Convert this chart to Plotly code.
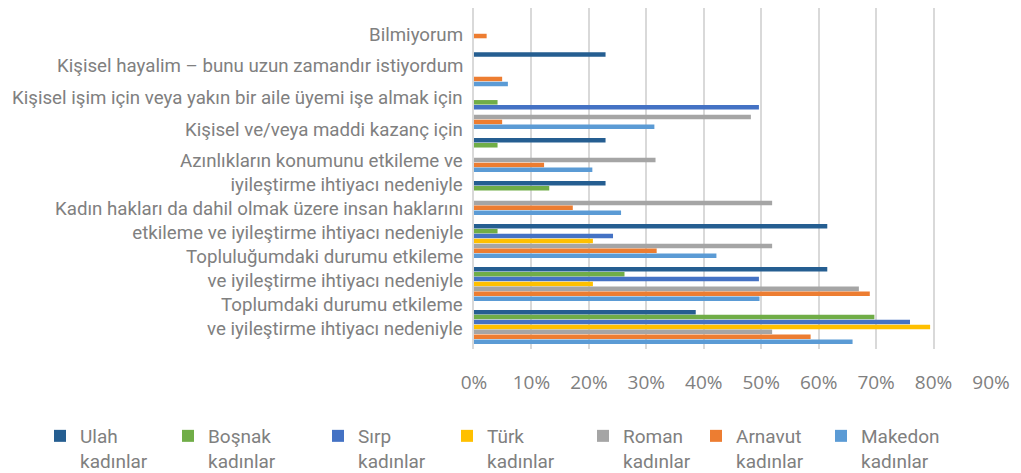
import plotly.graph_objects as go

# ---- data (categories listed top-to-bottom as shown) ----
categories = [
    "Bilmiyorum",
    "Kişisel hayalim – bunu uzun zamandır istiyordum",
    "Kişisel işim için veya yakın bir aile üyemi işe almak için",
    "Kişisel ve/veya maddi kazanç için",
    "Azınlıkların konumunu etkileme ve iyileştirme ihtiyacı nedeniyle",
    "Kadın hakları da dahil olmak üzere insan haklarını etkileme ve iyileştirme ihtiyacı nedeniyle",
    "Topluluğumdaki durumu etkileme ve iyileştirme ihtiyacı nedeniyle",
    "Toplumdaki durumu etkileme ve iyileştirme ihtiyacı nedeniyle",
]
category_labels = [
    "Bilmiyorum",
    "Kişisel hayalim – bunu uzun zamandır istiyordum",
    "Kişisel işim için veya yakın bir aile üyemi işe almak için",
    "Kişisel ve/veya maddi kazanç için",
    "Azınlıkların konumunu etkileme ve<br>iyileştirme ihtiyacı nedeniyle",
    "Kadın hakları da dahil olmak üzere insan haklarını<br>etkileme ve iyileştirme ihtiyacı nedeniyle",
    "Topluluğumdaki durumu etkileme<br>ve iyileştirme ihtiyacı nedeniyle",
    "Toplumdaki durumu etkileme<br>ve iyileştirme ihtiyacı nedeniyle",
]

series_names = ["Ulah<br>kadınlar", "Boşnak<br>kadınlar", "Sırp<br>kadınlar", "Türk<br>kadınlar",
                "Roman<br>kadınlar", "Arnavut<br>kadınlar", "Makedon<br>kadınlar"]

ulah = [0, 22.9, 0, 22.9, 22.9, 61.5, 61.5, 38.6]
bosnak = [0, 0, 4.1, 4.1, 13.1, 4.1, 26.2, 69.7]
sirp = [0, 0, 49.6, 0, 0, 24.2, 49.6, 75.9]
turk = [0, 0, 0, 0, 0, 20.7, 20.7, 79.4]
roman = [0, 0, 48.2, 31.6, 51.9, 51.9, 67.0, 51.9]
arnavut = [2.2, 4.9, 4.9, 12.2, 17.2, 31.8, 68.9, 58.6]
makedon = [0, 5.9, 31.4, 20.6, 25.6, 42.2, 49.7, 65.9]

tick_values = [0, 10, 20, 30, 40, 50, 60, 70, 80, 90]
tick_labels = ["0%", "10%", "20%", "30%", "40%", "50%", "60%", "70%", "80%", "90%"]

# ---- styling ----
series_values = [ulah, bosnak, sirp, turk, roman, arnavut, makedon]
colors = ["#255E91", "#70AD47", "#4472C4", "#FFC000", "#A5A5A5", "#ED7D31", "#5B9BD5"]
legend_x_px = [32, 160, 310, 439, 575, 688, 813]   # left of each legend box (figure px)
label_shift = [0.205, -0.081, -0.322, -0.584, -0.586, -0.462, -0.337, -0.227]

# the page adds an 8px body margin, so the figure is 8px smaller and shifted
W, H = 1013, 465
ML, MR, MT, MB = 466, 30, 0, 124
PW = W - ML - MR
PH = H - MT - MB

text_grey = "#808080"
label_font = "Roboto"

fig = go.Figure()
legend_layouts = {}
for k, (name, vals, col) in enumerate(zip(series_names, series_values, colors)):
    lname = "legend" if k == 0 else f"legend{k+1}"
    fig.add_trace(go.Bar(
        y=categories, x=vals, name=name, orientation="h",
        marker=dict(color=col, line=dict(width=0)),
        legend=lname, hoverinfo="x+name", showlegend=True,
    ))
    legend_layouts[lname] = dict(
        x=(legend_x_px[k] - ML) / PW, xanchor="left",
        y=(H - MB - 409) / PH, yanchor="top",
        bgcolor="rgba(0,0,0,0)", borderwidth=0,
        font=dict(family=label_font, size=19, color=text_grey),
        valign="top", itemclick=False, itemdoubleclick=False,
        visible=True,
    )

annotations = []
for i, lab in enumerate(category_labels):
    annotations.append(dict(
        x=-9 / PW, xref="paper", xanchor="right",
        y=i + label_shift[i], yref="y", yanchor="middle",
        text=lab, align="right", showarrow=False,
        font=dict(family=label_font, size=18.7, color=text_grey),
    ))

fig.update_layout(
    width=W, height=H,
    showlegend=True,
    margin=dict(l=ML, r=MR, t=MT, b=MB, pad=0, autoexpand=False),
    paper_bgcolor="white", plot_bgcolor="white",
    barmode="group", bargap=0.2, bargroupgap=0.08,
    annotations=annotations,
    xaxis=dict(
        range=[0, 90], tickmode="array", tickvals=tick_values, ticktext=tick_labels,
        showgrid=True, gridcolor="#D9D9D9", gridwidth=2,
        zeroline=False, showline=False, ticks="",
        ticklabelstandoff=20, automargin=False,
        tickfont=dict(family="Open Sans", size=19, color=text_grey),
        fixedrange=True,
    ),
    yaxis=dict(
        type="category", categoryorder="array", categoryarray=categories,
        range=[7.514, -0.424], showticklabels=False, ticks="",
        showgrid=False, zeroline=False, automargin=False,
        showline=True, linecolor="#D9D9D9", linewidth=2,
        fixedrange=True,
    ),
    **legend_layouts,
)

fig.write_html("out.html")
